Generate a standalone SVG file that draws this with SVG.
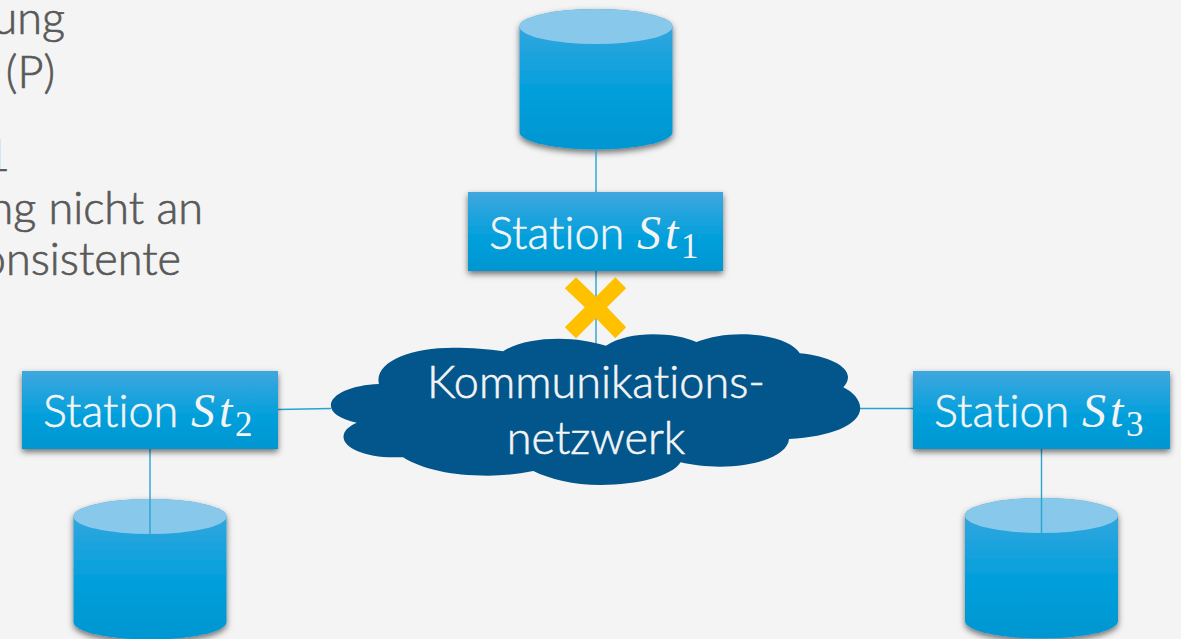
<svg xmlns="http://www.w3.org/2000/svg" width="1181" height="639" viewBox="0 0 1181 639">
<style>
.bg{fill:#f4f4f4}
.t{font-family:Lato,"Open Sans","Liberation Sans",sans-serif;fill:#595959;stroke:#595959;stroke-width:.7;font-size:45px;font-weight:300;font-variant-ligatures:none}
.l{font-family:Lato,"Open Sans","Liberation Sans",sans-serif;fill:#f4f4f4;stroke:#f4f4f4;stroke-width:.6;font-size:45px;font-weight:300;font-variant-ligatures:none}
.m{font-family:"Liberation Serif","DejaVu Serif",serif;font-style:italic;fill:#f4f4f4;font-size:48px;letter-spacing:4px}
.s{font-family:"Liberation Serif","DejaVu Serif",serif;fill:#f4f4f4;font-size:35px}
.c{stroke:#2aa3d3;stroke-width:1.4;fill:none}
.box{fill:url(#g);filter:url(#sh)}
.body{fill:url(#g);filter:url(#sh)}
.top{fill:#88c9eb}
</style>
<defs>
<linearGradient id="g" x1="0" y1="0" x2="0" y2="1">
<stop offset="0" stop-color="#40a7de"/><stop offset="0.55" stop-color="#05a0dc"/><stop offset="1" stop-color="#0096d1"/>
</linearGradient>
<filter id="sh" x="-10%" y="-10%" width="120%" height="125%">
<feDropShadow dx="0" dy="3" stdDeviation="3" flood-color="#000" flood-opacity="0.55"/>
</filter>
<path id="cyl" d="M0,17.5 A76.5,17.5 0 0 1 153,17.5 V123 A76.5,17.5 0 0 1 0,123 Z"/>
</defs>
<rect class="bg" width="1181" height="639"/>
<g id="text-fragment">
<text class="t" x="65" y="34" text-anchor="end">ung</text>
<text class="t" x="55" y="88" text-anchor="end">(P)</text>
<text class="t" x="10" y="171" text-anchor="end">1</text>
<text class="t" x="203" y="224" text-anchor="end">ng nicht an</text>
<text class="t" x="181" y="275" text-anchor="end">onsistente</text>
</g>
<g id="db1"><use href="#cyl" x="519.5" y="9" class="body"/><ellipse class="top" cx="596" cy="26.5" rx="76.5" ry="17.5"/></g>
<g id="db2"><use href="#cyl" x="73.5" y="499" class="body"/><ellipse class="top" cx="150" cy="516.5" rx="76.5" ry="17.5"/></g>
<g id="db3"><use href="#cyl" x="965" y="498" class="body"/><ellipse class="top" cx="1041.5" cy="515.5" rx="76.5" ry="17.5"/></g>
<g id="connectors">
<path class="c" d="M596,149V192M596,271V346M278,409.500L331,408.500M860,408.500H913M150,449V534M1041.500,449V533"/>
</g>
<g id="st1"><rect class="box" x="468" y="192" width="255" height="79"/>
<text class="l" x="489" y="249">Station</text><text class="m" x="637" y="249">St</text><text class="s" x="681" y="258">1</text></g>
<g id="st2"><rect class="box" x="22" y="371" width="256" height="78"/>
<text class="l" x="43" y="427">Station</text><text class="m" x="191" y="427">St</text><text class="s" x="235" y="436">2</text></g>
<g id="st3"><rect class="box" x="913" y="371" width="257" height="78"/>
<text class="l" x="934" y="427">Station</text><text class="m" x="1082" y="427">St</text><text class="s" x="1126" y="436">3</text></g>
<g id="cloud">
<path fill="#02568b" d="M356.800,422.700C340,419 330.900,413 330.900,405.500C330.900,394 352,385 378.900,384C374,362 410,347.700 453,347.700C472,347.700 488,349 503.100,351.300C516,343 536,338.700 558.500,338.700C576,338.700 592,341.500 605.900,345.700C618,338 635,334.300 653,334.300C670,334.300 685,337 696.400,342C710,337 725,334.300 741,334.300C770,334.300 793,342 799.800,353.300C828,356 848,366 848,377C848,381 846,384.500 843.300,387.300C853,392 860.200,400 860.200,408C860.200,425 830,437 789,439C788,455 757,466.700 720,466.700C706,466.700 692,465 680.600,462.300C672,476 638,485 600.600,485C573,485 550,479 533.300,471C518,474 503,475.700 488,475.700C450,475.700 422,469 403.100,457.300C398,457.300 396,457.300 393.700,457.300C365,457.300 343.500,448 343.500,436.700C343.500,431 349,426 356.800,422.700Z"/>
<text class="l" x="596" y="398" text-anchor="middle">Kommunikations-</text>
<text class="l" x="596" y="454" text-anchor="middle">netzwerk</text>
</g>
<g id="cross"><polygon fill="#ffc000" points="576,277.300 596,296.700 615.300,277.300 626.200,288.300 607,307.300 626.200,327.300 615.300,338.300 596,318.300 576,338.300 564.800,327.300 584.800,307.300 564.800,288.300"/></g>
</svg>
